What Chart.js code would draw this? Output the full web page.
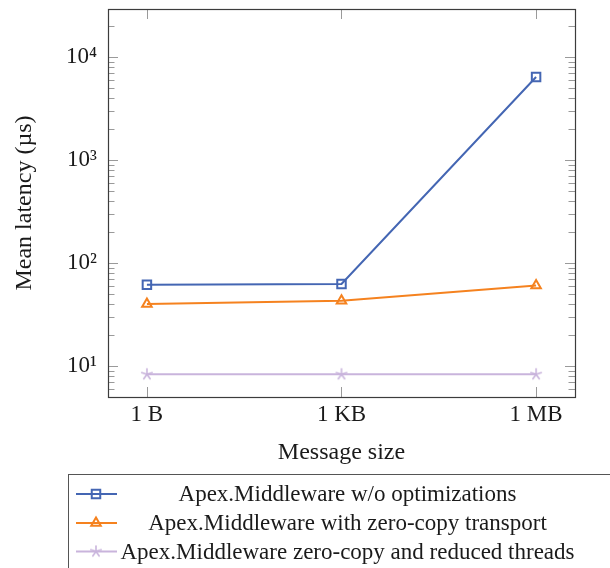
<!DOCTYPE html>
<html>
<head>
<meta charset="utf-8">
<script src="https://cdn.jsdelivr.net/npm/chart.js@4.4.1/dist/chart.umd.min.js"></script>
<style>
  html, body { margin: 0; padding: 0; background: #fff; }
  #wrap { width: 610px; height: 568px; }
</style>
</head>
<body>
<div id="wrap"><canvas id="c" width="610" height="568"></canvas></div>
<script>
// ---- data ----
const categories = ['1 B', '1 KB', '1 MB'];
const seriesNames = [
  'Apex.Middleware w/o optimizations',
  'Apex.Middleware with zero-copy transport',
  'Apex.Middleware zero-copy and reduced threads'
];
const noOptimizations = [61.5, 62.5, 6400];
const zeroCopy = [40, 43, 60.5];
const zeroCopyReducedThreads = [8.3, 8.3, 8.3];
const yMajorTicks = [10, 100, 1000, 10000];
const yTickLabels = ['10\u00B9', '10\u00B2', '10\u00B3', '10\u2074'];
const yRange = [5, 29250];

const FONT = "'Liberation Serif', 'Times New Roman', serif";
const BLUE = '#4466b3';
const ORANGE = '#f5821f';
const LAV = '#c9b4dc';

function starCanvas(color) {
  const c = document.createElement('canvas');
  c.width = 14; c.height = 14;
  const g = c.getContext('2d');
  g.strokeStyle = color;
  g.lineWidth = 1.6;
  g.lineCap = 'round';
  for (let k = 0; k < 5; k++) {
    const a = -Math.PI / 2 + k * 2 * Math.PI / 5;
    g.beginPath();
    g.moveTo(7, 7);
    g.lineTo(7 + 5.5 * Math.cos(a), 7 + 5.5 * Math.sin(a));
    g.stroke();
  }
  return c;
}
const starImg = starCanvas(LAV);

function toPoints(arr) { return arr.map((v, i) => ({ x: i, y: v })); }

const datasets = [
  { label: seriesNames[0], data: toPoints(noOptimizations), borderColor: BLUE,
    pointStyle: 'rect', pointRadius: 6, pointBorderWidth: 2, pointBorderColor: BLUE,
    pointBackgroundColor: 'rgba(0,0,0,0)', borderWidth: 2 },
  { label: seriesNames[1], data: toPoints(zeroCopy), borderColor: ORANGE,
    pointStyle: 'triangle', pointRadius: 5.5, pointBorderWidth: 2, pointBorderColor: ORANGE,
    pointBackgroundColor: 'rgba(0,0,0,0)', borderWidth: 2 },
  { label: seriesNames[2], data: toPoints(zeroCopyReducedThreads), borderColor: LAV,
    pointStyle: starImg, pointRadius: 6, pointBorderWidth: 1.6, pointBorderColor: LAV,
    pointBackgroundColor: 'rgba(0,0,0,0)', borderWidth: 2 }
];

const framePlugin = {
  id: 'frame',
  beforeDatasetsDraw(chart) {
    const { ctx, chartArea: a, scales: { x, y } } = chart;
    ctx.save();
    ctx.strokeStyle = '#9a9a9a';
    ctx.lineWidth = 1;
    // y ticks (left and right, inward)
    for (let d = 0; d <= 5; d++) {
      for (let m = 1; m <= 9; m++) {
        const v = m * Math.pow(10, d);
        if (v < yRange[0] || v > yRange[1]) continue;
        const py = Math.round(y.getPixelForValue(v)) + 0.5;
        const len = (m === 1) ? 10 : 6.5;
        ctx.beginPath();
        ctx.moveTo(a.left, py); ctx.lineTo(a.left + len, py);
        ctx.moveTo(a.right, py); ctx.lineTo(a.right - len, py);
        ctx.stroke();
      }
    }
    // x ticks (top and bottom, inward)
    categories.forEach((c, i) => {
      const px = Math.round(x.getPixelForValue(i)) + 0.5;
      ctx.beginPath();
      ctx.moveTo(px, a.bottom); ctx.lineTo(px, a.bottom - 10);
      ctx.moveTo(px, a.top); ctx.lineTo(px, a.top + 10);
      ctx.stroke();
    });
    ctx.restore();
  },
  afterDatasetsDraw(chart) {
    const { ctx, chartArea: a } = chart;
    ctx.save();
    ctx.strokeStyle = '#3c3c3c';
    ctx.lineWidth = 1.2;
    ctx.strokeRect(Math.round(a.left) + 0.5, Math.round(a.top) + 0.5,
      Math.round(a.right - a.left), Math.round(a.bottom - a.top));
    ctx.restore();
  },
  afterDraw(chart) {
    const { ctx } = chart;
    ctx.save();
    // legend box
    ctx.strokeStyle = '#555';
    ctx.lineWidth = 1;
    ctx.strokeRect(68.5, 474.5, 600, 200);
    const rows = [494, 523, 551.5];
    chart.data.datasets.forEach((ds, i) => {
      const ry = rows[i];
      ctx.strokeStyle = ds.borderColor;
      ctx.lineWidth = ds.borderWidth;
      ctx.beginPath();
      ctx.moveTo(76, ry); ctx.lineTo(117, ry);
      ctx.stroke();
      ctx.fillStyle = 'rgba(0,0,0,0)';
      ctx.lineWidth = ds.pointBorderWidth;
      Chart.helpers.drawPoint(ctx, { pointStyle: ds.pointStyle, radius: ds.pointRadius,
        borderWidth: ds.pointBorderWidth, rotation: 0 }, 96, ry);
      ctx.fillStyle = '#1a1a1a';
      ctx.font = '23px ' + FONT;
      ctx.textAlign = 'center';
      ctx.textBaseline = 'middle';
      ctx.fillText(ds.label, 347.5, ry + 1);
    });
    ctx.restore();
  }
};

new Chart(document.getElementById('c'), {
  type: 'line',
  data: { datasets },
  options: {
    responsive: false,
    animation: false,
    layout: { padding: { left: 0, top: 9, right: 35, bottom: 101 } },
    plugins: { legend: { display: false }, tooltip: { enabled: false } },
    elements: { line: { tension: 0 } },
    scales: {
      x: {
        type: 'linear', min: -0.2, max: 2.2,
        grid: { display: false, drawTicks: false },
        border: { display: false },
        afterBuildTicks: (s) => { s.ticks = categories.map((c, i) => ({ value: i })); },
        afterFit: (s) => { s.height = 70; s.paddingLeft = 0; s.paddingRight = 0; },
        ticks: { callback: (v) => categories[v], color: '#1a1a1a', padding: 4,
          maxRotation: 0, autoSkip: false, font: { family: FONT, size: 23 } },
        title: { display: true, text: 'Message size', color: '#1a1a1a',
          padding: { top: 0, bottom: 0 }, font: { family: FONT, size: 24 } }
      },
      y: {
        type: 'logarithmic', min: yRange[0], max: yRange[1],
        grid: { display: false, drawTicks: false },
        border: { display: false },
        afterBuildTicks: (s) => { s.ticks = yMajorTicks.map(v => ({ value: v, major: true })); },
        afterFit: (s) => { s.width = 108; s.paddingTop = 0; s.paddingBottom = 0; },
        ticks: { callback: (v) => yTickLabels[yMajorTicks.indexOf(v)], color: '#1a1a1a',
          padding: 11, autoSkip: false, font: { family: FONT, size: 23 } },
        title: { display: true, text: 'Mean latency (\u00B5s)', color: '#1a1a1a',
          padding: { top: 10, bottom: 0 }, font: { family: FONT, size: 24 } }
      }
    }
  },
  plugins: [framePlugin]
});
</script>
</body>
</html>
